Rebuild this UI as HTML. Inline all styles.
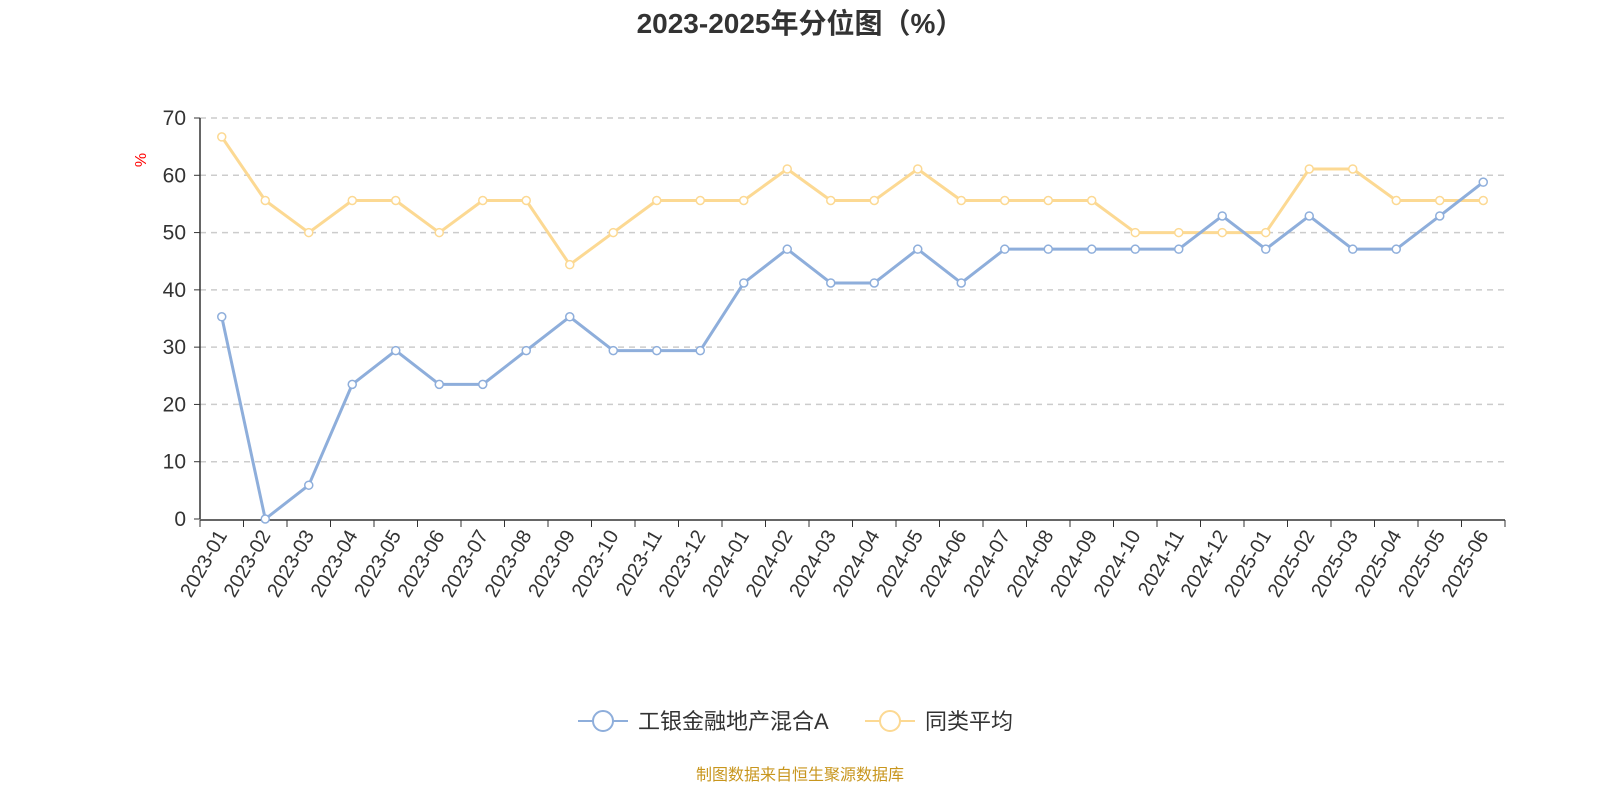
<!DOCTYPE html>
<html><head><meta charset="utf-8"><style>
body{margin:0;background:#fff;font-family:"Liberation Sans","Noto Sans CJK SC",sans-serif;}
</style></head><body>
<svg width="1600" height="800" xmlns="http://www.w3.org/2000/svg" font-family="Liberation Sans, Noto Sans CJK SC, sans-serif">
<text x="800" y="33" text-anchor="middle" font-size="28" font-weight="bold" fill="#333">2023-2025年分位图（%）</text>
<text transform="translate(146,160) rotate(-90)" text-anchor="middle" font-size="16" fill="red">%</text>
<g id="grid"></g><g id="axes"></g><g id="series"></g>
<g>
<g>
<line x1="578" y1="721" x2="628" y2="721" stroke="#8eaedb" stroke-width="2"/>
<circle cx="603" cy="721" r="10" fill="#fff" stroke="#8eaedb" stroke-width="2"/>
<text x="638" y="729" font-size="22" fill="#333">工银金融地产混合A</text></g>
<g>
<line x1="865" y1="721" x2="915" y2="721" stroke="#fcd993" stroke-width="2"/>
<circle cx="890" cy="721" r="10" fill="#fff" stroke="#fcd993" stroke-width="2"/>
<text x="925" y="729" font-size="22" fill="#333">同类平均</text></g>
</g>
<text x="800" y="780" text-anchor="middle" font-size="16" fill="#c8961e">制图数据来自恒生聚源数据库</text>
</svg>
<script>
const categories=["2023-01","2023-02","2023-03","2023-04","2023-05","2023-06","2023-07","2023-08","2023-09","2023-10","2023-11","2023-12","2024-01","2024-02","2024-03","2024-04","2024-05","2024-06","2024-07","2024-08","2024-09","2024-10","2024-11","2024-12","2025-01","2025-02","2025-03","2025-04","2025-05","2025-06"];
const fundValues=[35.3,0,5.9,23.5,29.4,23.5,23.5,29.4,35.3,29.4,29.4,29.4,41.2,47.1,41.2,41.2,47.1,41.2,47.1,47.1,47.1,47.1,47.1,52.9,47.1,52.9,47.1,47.1,52.9,58.8];
const avgValues=[66.7,55.6,50,55.6,55.6,50,55.6,55.6,44.4,50,55.6,55.6,55.6,61.1,55.6,55.6,61.1,55.6,55.6,55.6,55.6,50,50,50,50,61.1,61.1,55.6,55.6,55.6];
const yTicks=[0,10,20,30,40,50,60,70];
const NS="http://www.w3.org/2000/svg";
const X0=200,X1=1505,Y0=519,Y1=118,YMAX=70;
const bw=(X1-X0)/categories.length;
const xs=i=>X0+bw*(i+0.5);
const ys=v=>Y0-(v/YMAX)*(Y0-Y1);
function mk(t,a,p){const e=document.createElementNS(NS,t);for(const k in a)e.setAttribute(k,a[k]);p.appendChild(e);return e;}
const grid=document.getElementById('grid'),axes=document.getElementById('axes'),ser=document.getElementById('series');
yTicks.forEach(v=>{
 if(v>0){const g=mk('line',{x1:X0,x2:X1,y1:ys(v),y2:ys(v),stroke:'#ccc','stroke-dasharray':'6,5','stroke-width':1.5},grid);
 
 }
 const t=mk('text',{x:186,y:ys(v)+7,'text-anchor':'end','font-size':21,fill:'#333'},axes);t.textContent=v;
 
 
 mk('line',{x1:X0-6,x2:X0,y1:ys(v),y2:ys(v),stroke:'#333'},axes);
});
const ya=mk('line',{x1:X0,x2:X0,y1:Y1,y2:Y0,stroke:'#333','stroke-width':1.5},axes);


const xa=mk('line',{x1:X0,x2:X1,y1:Y0+1,y2:Y0+1,stroke:'#333','stroke-width':1.5},axes);


for(let i=0;i<=categories.length;i++)mk('line',{x1:X0+bw*i,x2:X0+bw*i,y1:Y0+1,y2:Y0+8,stroke:'#333'},axes);
categories.forEach((c,i)=>{
 const t=mk('text',{transform:`translate(${xs(i)+6},${Y0+16}) rotate(-60)`,'text-anchor':'end','font-size':20,fill:'#333'},axes);
 t.textContent=c;
 
 
});
function draw(vals,color,name){
 const p=mk('polyline',{points:vals.map((v,i)=>xs(i)+','+ys(v)).join(' '),fill:'none',stroke:color,'stroke-width':3,'stroke-linejoin':'round'},ser);
 
 
 vals.forEach((v,i)=>{const c=mk('circle',{cx:xs(i),cy:ys(v),r:4,fill:'#fff',stroke:color,'stroke-width':1.5},ser);
 
 });
}
draw(avgValues,'#fcd993','average');
draw(fundValues,'#8eaedb','fund');
</script>
</body></html>
